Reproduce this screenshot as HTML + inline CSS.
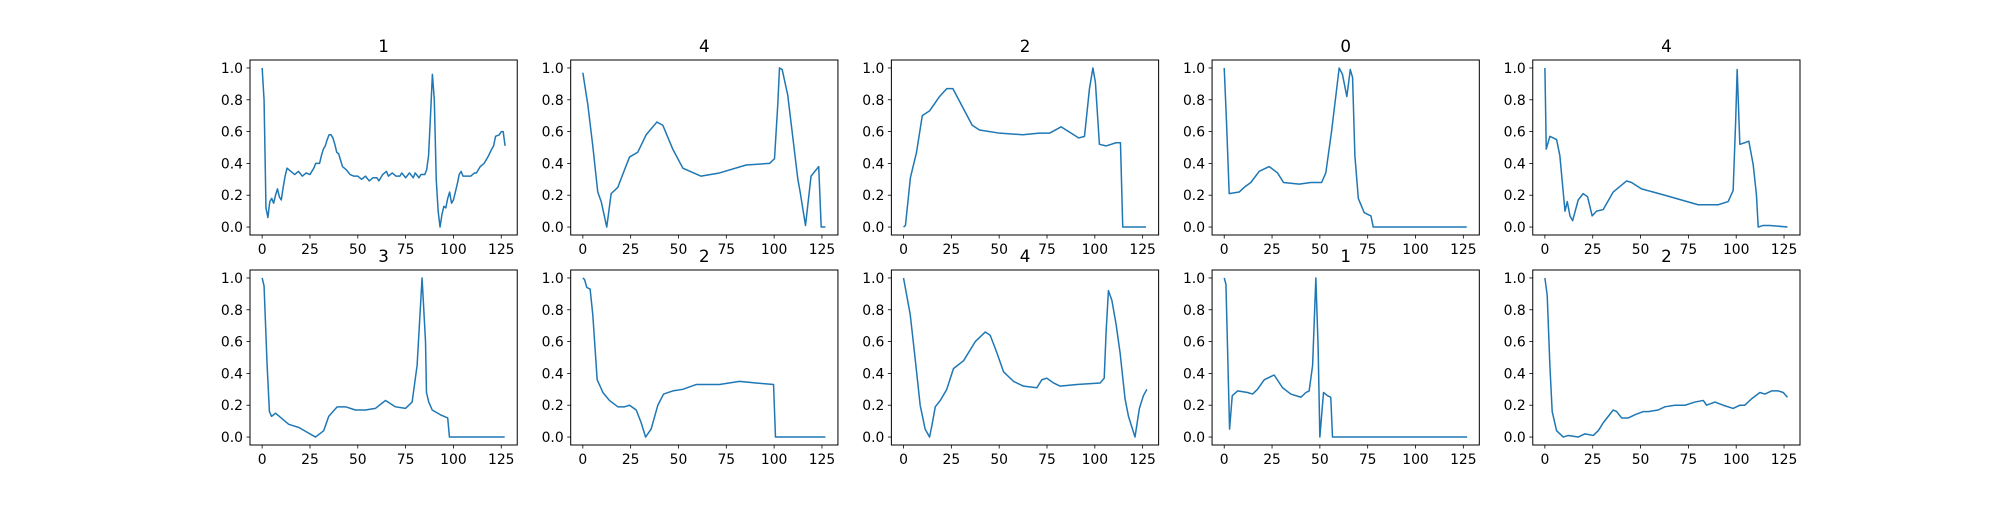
<!DOCTYPE html>
<html><head><meta charset="utf-8"><style>
html,body{margin:0;padding:0;background:#fff;}
svg text{font-family:"DejaVu Sans","Liberation Sans",sans-serif;fill:#000;}
</style></head><body>
<svg id="fig" width="2000" height="500" xmlns="http://www.w3.org/2000/svg"></svg>
<script>
const titles = ["1","4","2","0","4","3","2","4","1","2"];
const xTicks = [0,25,50,75,100,125];
const yTicks = [0.0,0.2,0.4,0.6,0.8,1.0];
const xs0 = [0,1,2,3,4,5,6,7,8,9,10,11,12,13,15,17,19,21,23,25,27,28,30,31,32,33,34,35,36,37,38,39,40,41,42,44,46,48,50,52,54,56,58,60,61,63,65,66,68,70,72,73,75,77,79,80,82,83,85,86,87,88,89,90,91,92,93,94,95,96,97,98,99,100,102,103,104,105,107,109,111,112,114,116,118,120,121,122,124,125,126,127];
const ys0 = [1.0,0.8,0.12,0.06,0.16,0.18,0.15,0.2,0.24,0.19,0.17,0.25,0.32,0.37,0.35,0.33,0.35,0.32,0.34,0.33,0.37,0.4,0.4,0.45,0.49,0.51,0.55,0.58,0.58,0.56,0.52,0.47,0.46,0.42,0.38,0.36,0.33,0.32,0.32,0.3,0.32,0.29,0.31,0.31,0.29,0.33,0.35,0.32,0.34,0.32,0.32,0.34,0.31,0.34,0.31,0.34,0.31,0.33,0.33,0.36,0.45,0.7,0.96,0.8,0.3,0.1,0.0,0.08,0.13,0.12,0.18,0.22,0.15,0.17,0.27,0.33,0.35,0.32,0.32,0.32,0.34,0.34,0.38,0.4,0.44,0.49,0.51,0.57,0.58,0.6,0.6,0.51];
const xs1 = [0,2.6,5.2,7.8,9.6,12.5,14.8,18.3,21.8,24.4,28.7,33.1,38.7,41.8,47,52.3,61.8,71.4,85.4,97.6,100.2,101.9,102.8,104.2,107.1,109.8,112.4,113.6,116.4,119.3,123.3,124.6,126.8];
const ys1 = [0.97,0.77,0.51,0.22,0.16,0.0,0.21,0.25,0.36,0.44,0.47,0.58,0.66,0.64,0.49,0.37,0.32,0.34,0.39,0.4,0.43,0.77,1.0,0.99,0.83,0.56,0.3,0.22,0.01,0.32,0.38,0.0,0.0];
const xs2 = [0,1,3.6,6.8,9.8,13.6,18.8,22.6,25.8,29.3,35.9,39.7,50.2,62.4,71,76.3,82.4,87.6,91.6,94.6,97.2,99,100.3,102.4,105.9,111.1,113.4,114.6,126.8];
const ys2 = [0,0.01,0.31,0.47,0.7,0.73,0.82,0.87,0.87,0.79,0.64,0.61,0.59,0.58,0.59,0.59,0.63,0.59,0.56,0.57,0.87,1.0,0.91,0.52,0.51,0.53,0.53,0,0];
const xs3 = [0,1.2,2.6,7.8,10.5,13.9,18.3,23.5,27.9,31,39.2,45.3,50.9,53.1,56.1,60.1,61.8,64.1,65.9,67.1,68.3,70.1,73.2,76.7,77.9,126.8];
const ys3 = [1.0,0.66,0.21,0.22,0.25,0.28,0.35,0.38,0.34,0.28,0.27,0.28,0.28,0.34,0.6,1.0,0.96,0.82,0.99,0.94,0.45,0.18,0.09,0.07,0,0];
const xs4 = [0,0.7,2.6,6.1,7.8,10.5,11.7,13.1,14.5,17.4,20,22.3,24.7,27,30.5,35.7,42.7,45.3,50.5,62.7,71.4,80.1,90.6,95.8,98.4,99.7,100.5,101.9,104.5,106.6,108.9,110.6,111.5,114.1,117.6,126.8];
const ys4 = [1.0,0.49,0.57,0.55,0.45,0.1,0.16,0.07,0.04,0.17,0.21,0.19,0.07,0.1,0.11,0.22,0.29,0.28,0.24,0.2,0.17,0.14,0.14,0.16,0.23,0.66,0.99,0.52,0.53,0.54,0.39,0.2,0,0.01,0.01,0];
const xs5 = [0,1,2.6,3.8,4.9,7,13.9,19.2,23.5,27.9,32.2,34.8,39.2,43.6,48.8,54,59.2,64.5,69.7,74.9,78.4,81,83.6,85.4,85.9,87.1,88.9,93.2,97,97.9,126.8];
const ys5 = [1.0,0.95,0.45,0.16,0.13,0.15,0.08,0.06,0.03,0.0,0.04,0.13,0.19,0.19,0.17,0.17,0.18,0.23,0.19,0.18,0.22,0.45,1.0,0.6,0.28,0.22,0.17,0.14,0.12,0,0];
const xs6 = [0,0.9,2.1,3.8,5.2,7.5,10.5,13.9,18.3,21.8,24.4,27.9,30.5,32.8,35.7,39.2,42.2,47,52.3,59.2,71.4,81.9,90.6,99.7,100.7,126.8];
const ys6 = [1.0,0.99,0.94,0.93,0.77,0.36,0.28,0.23,0.19,0.19,0.2,0.17,0.09,0,0.05,0.2,0.27,0.29,0.3,0.33,0.33,0.35,0.34,0.33,0,0];
const xs7 = [0,3.5,6.1,8.7,11.3,13.6,14.8,16.6,19.2,22.6,26.1,31.4,37.5,42.7,45.3,48.8,52.3,57.5,62.7,69.7,72.3,74.9,78.4,81.9,90.6,102.8,104.9,105.9,107.1,108.9,111.1,113.2,115.8,117.6,121,123.3,125.4,127.2];
const ys7 = [1.0,0.77,0.49,0.2,0.05,0,0.07,0.19,0.23,0.3,0.43,0.48,0.6,0.66,0.64,0.53,0.41,0.35,0.32,0.31,0.36,0.37,0.34,0.32,0.33,0.34,0.37,0.66,0.92,0.86,0.71,0.53,0.24,0.13,0,0.18,0.26,0.3];
const xs8 = [0,0.9,2.8,4.2,7,12.2,14.8,17.4,20.9,26.1,30.5,34.8,40.1,42.7,44.4,46.2,47.9,49.1,50,51.9,54,55.7,56.6,125.4,127];
const ys8 = [1.0,0.96,0.05,0.26,0.29,0.28,0.27,0.3,0.36,0.39,0.31,0.27,0.25,0.28,0.29,0.45,1.0,0.56,0,0.28,0.26,0.25,0,0,0];
const xs9 = [0,1.2,2.6,3.8,6.1,9.6,12.2,17.4,20.9,25.3,27.9,30.5,33.1,35.7,37.5,40.1,43.6,47,51.4,54,59.2,62.7,67.9,73.2,78.4,82.8,84.5,88.9,93.2,98.4,101.9,104.5,108,112.4,115,118.5,122,124.6,126.8];
const ys9 = [1.0,0.89,0.45,0.16,0.04,0.0,0.01,0.0,0.02,0.01,0.04,0.09,0.13,0.17,0.16,0.12,0.12,0.14,0.16,0.16,0.17,0.19,0.2,0.2,0.22,0.23,0.2,0.22,0.2,0.18,0.2,0.2,0.24,0.28,0.27,0.29,0.29,0.28,0.25];
const seriesX = [xs0,xs1,xs2,xs3,xs4,xs5,xs6,xs7,xs8,xs9];
const seriesY = [ys0,ys1,ys2,ys3,ys4,ys5,ys6,ys7,ys8,ys9];

const NS="http://www.w3.org/2000/svg";
const svg=document.getElementById('fig');
function mk(tag,attrs,parent){const e=document.createElementNS(NS,tag);for(const k in attrs)e.setAttribute(k,attrs[k]);(parent||svg).appendChild(e);return e;}
const W=1550/5.8, gap=W*0.2, H=175;
const xmin=-6.35,xmax=133.35,ymin=-0.05,ymax=1.05;
for(let i=0;i<10;i++){
  const col=i%5,row=Math.floor(i/5);
  const L=250+col*(W+gap), T=60+row*(H+35);
  const sx=v=>L+(v-xmin)/(xmax-xmin)*W;
  const sy=v=>T+(ymax-v)/(ymax-ymin)*H;
  const g=mk('g',{});
  
  
  const frame=mk('rect',{x:L,y:T,width:W,height:H,fill:'none',stroke:'#000','stroke-width':1},g);
  
  
  const t=mk('text',{x:L+W/2,y:T-8,'text-anchor':'middle','font-size':'16.7px'},g);
  t.textContent=titles[i];
  
  
  xTicks.forEach(v=>{
    const x=sx(v);
    mk('line',{x1:x,x2:x,y1:T+H,y2:T+H+3.5,stroke:'#000','stroke-width':0.8},g);
    const tx=mk('text',{x:x,y:T+H+19,'text-anchor':'middle','font-size':'13.9px'},g);
    tx.textContent=String(v);
    
    
  });
  yTicks.forEach(v=>{
    const y=sy(v);
    mk('line',{x1:L-3.5,x2:L,y1:y,y2:y,stroke:'#000','stroke-width':0.8},g);
    const ty=mk('text',{x:L-7,y:y+5,'text-anchor':'end','font-size':'13.9px'},g);
    ty.textContent=v.toFixed(1);
    
    
  });
  const xsArr=seriesX[i], ysArr=seriesY[i];
  const pts=xsArr.map((x,k)=>sx(x).toFixed(2)+','+sy(ysArr[k]).toFixed(2)).join(' ');
  const pl=mk('polyline',{points:pts,fill:'none',stroke:'#1f77b4','stroke-width':1.5,'stroke-linejoin':'round'},g);
  
  
}
</script>
</body></html>
